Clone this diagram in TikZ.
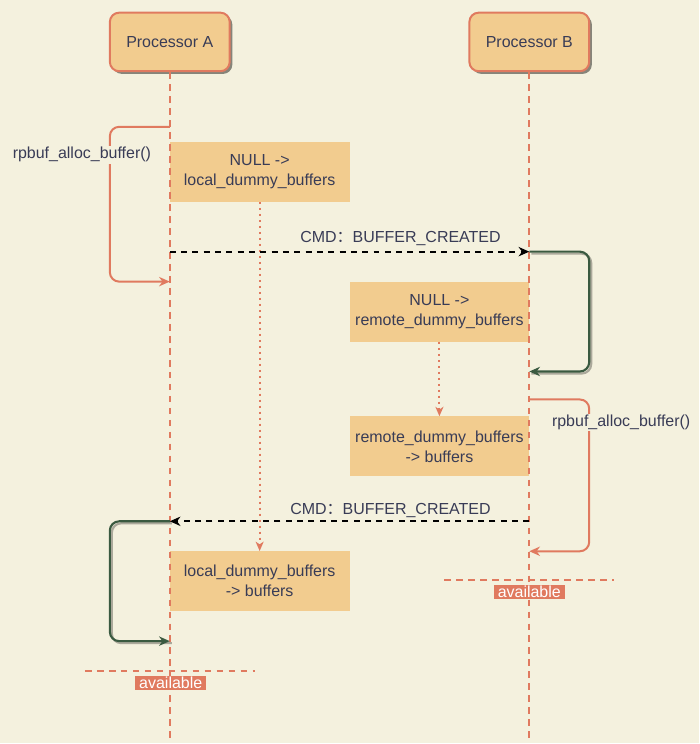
\documentclass[tikz,border=0pt]{standalone}
\usepackage{fontspec}
\setmainfont{Liberation Sans}
\newfontfamily\cjk{Noto Sans CJK SC}
\usepackage{tikz}
\usetikzlibrary{arrows.meta,positioning,shadows}
\usepackage{xcolor}
\definecolor{paper}{HTML}{F4F1DE}
\definecolor{sand}{HTML}{F2CC8F}
\definecolor{coral}{HTML}{E07A5F}
\definecolor{ink}{HTML}{393C56}
\definecolor{moss}{HTML}{3A5A40}

\begin{document}
\begin{tikzpicture}[
    x=0.75pt, y=-0.75pt,
    font=\fontsize{12}{15}\selectfont, text=ink,
    proc/.style={rectangle, rounded corners=7pt, draw=coral, line width=1.5pt, fill=sand,
                 minimum width=90pt, minimum height=44pt,
                 drop shadow={shadow xshift=2pt, shadow yshift=-2pt, fill=black!45!paper, opacity=1}},
    note/.style={rectangle, fill=sand, minimum width=135pt, minimum height=45pt, align=center},
    life/.style={draw=coral, line width=1.5pt, dash pattern=on 5pt off 4pt},
    msg/.style={-{Stealth[length=8pt, width=7pt, inset=2.5pt]}, line width=1.5pt, black,
                dash pattern=on 4.5pt off 4pt},
    call/.style={-{Stealth[length=8pt, width=7pt, inset=2.5pt]}, coral, line width=1.5pt,
                 rounded corners=7pt},
    reply/.style={-{Stealth[length=8pt, width=7pt, inset=2.5pt]}, moss, line width=1.6pt,
                  rounded corners=7pt,
                  preaction={draw=black!30!paper, -, line width=1.6pt,
                             transform canvas={shift={(1.5pt,-1.5pt)}}}},
    flow/.style={-{Stealth[length=7pt, width=6pt, inset=2pt]}, coral, line width=1.5pt,
                 dash pattern=on 1.5pt off 3pt},
    tag/.style={fill=paper, inner sep=1pt},
    bar/.style={draw=coral, line width=1.5pt, dash pattern=on 5pt off 4pt},
    avail/.style={fill=coral, text=white, inner xsep=3pt, inner ysep=1pt}
  ]
  % background
  \fill[paper] (0,0) rectangle (700,744);

  % Processors
  \node[proc] (procA) at (170,42) {Processor A};
  \node[proc] (procB) at (530,42) {Processor B};

  % Notes
  \node[note] (nullLocal)  at (260,172) {NULL ->\\local\_dummy\_buffers};
  \node[note] (nullRemote) at (440,312) {NULL ->\\remote\_dummy\_buffers};
  \node[note] (dumRemote)  at (440,447) {remote\_dummy\_buffers\\-> buffers};
  \node[note] (dumLocal)   at (260,582) {local\_dummy\_buffers\\-> buffers};

  % Lifelines
  \coordinate (endA) at (170,744);
  \coordinate (endB) at (530,744);
  \draw[life] (procA.south) -- (endA);
  \draw[life] (procB.south) -- (endB);

  % Points on the lifelines
  \coordinate (a1) at (170,127);
  \coordinate (a2) at (170,282);
  \coordinate (a3) at (170,252);
  \coordinate (a4) at (170,522);
  \coordinate (a5) at (170,642);
  \coordinate (b1) at (530,252);
  \coordinate (b2) at (530,372);
  \coordinate (b3) at (530,400);
  \coordinate (b4) at (530,552);
  \coordinate (b5) at (530,522);

  % Buffer moves
  \draw[flow] (nullLocal) -- (dumLocal);
  \draw[flow] (nullRemote) -- (dumRemote);

  % Processor A allocates
  \draw[call] (a1) -- ++(-60,0) |- (a2);
  \node[tag] (allocA) at (82,155) {rpbuf\_alloc\_buffer()};

  % Messages
  \draw[msg] (a3) -- (b1);
  \node (cmdAB) at (401,239) {CMD{\cjk ：}BUFFER\_CREATED};
  \draw[msg] (b5) -- (a4);
  \node (cmdBA) at (391,511) {CMD{\cjk ：}BUFFER\_CREATED};

  % Replies
  \draw[reply] (b1) -- ++(60,0) |- (b2);
  \draw[reply] (a4) -- ++(-60,0) |- (a5);

  % Processor B allocates
  \draw[call] (b3) -- ++(60,0) |- (b4);
  \node[tag] (allocB) at (622,423) {rpbuf\_alloc\_buffer()};

  % Available markers
  \coordinate (sepA1) at (85,672);
  \coordinate (sepA2) at (255,672);
  \coordinate (sepB1) at (445,581);
  \coordinate (sepB2) at (615,581);
  \draw[bar] (sepA1) -- (sepA2);
  \draw[bar] (sepB1) -- (sepB2);
  \node[avail] (availA) at (171,684) {available};
  \node[avail] (availB) at (530,593) {available};
\end{tikzpicture}
\end{document}
